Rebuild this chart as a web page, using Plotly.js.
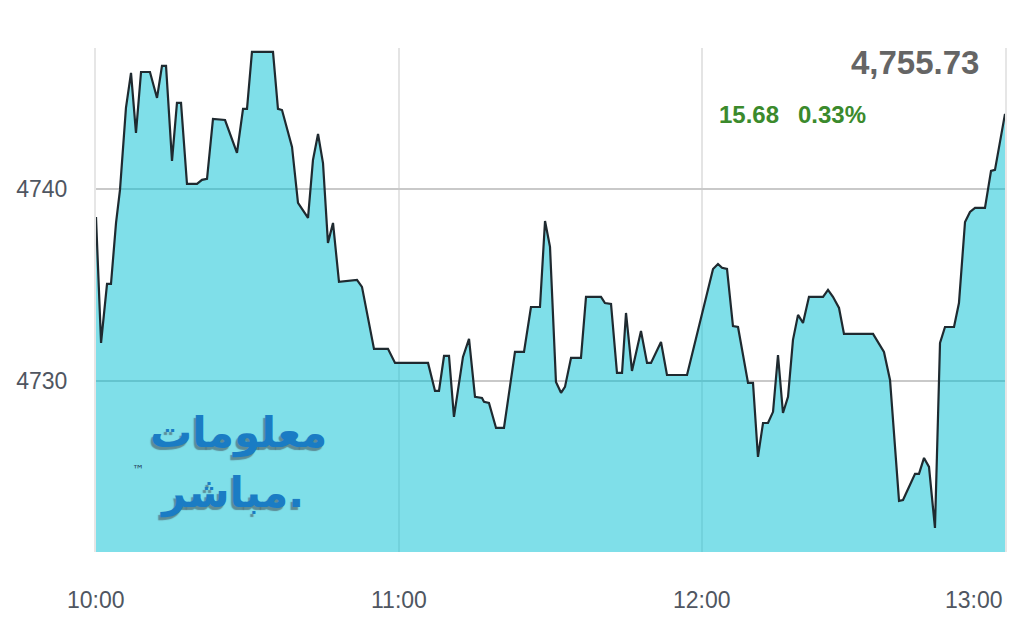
<!DOCTYPE html>
<html>
<head>
<meta charset="utf-8">
<script src="https://cdn.plot.ly/plotly-3.0.1.min.js"></script>
<style>
  html, body { margin: 0; padding: 0; background: #ffffff; }
  #chart { width: 1024px; height: 640px; }
</style>
</head>
<body>
<div id="chart"></div>
<script>
// ---- Data ----
const sessionDate = '2024-01-01';
const times = [
  '10:00:00','10:01:00','10:02:11','10:02:58','10:03:58','10:04:45','10:05:56','10:06:56','10:07:55','10:08:55',
  '10:10:41','10:12:05','10:13:04','10:13:52','10:15:03','10:16:02','10:16:50','10:18:01','10:20:00','10:20:59',
  '10:21:59','10:23:10','10:25:33','10:27:55','10:29:07','10:29:54','10:30:53','10:35:03','10:36:02','10:36:50',
  '10:38:49','10:40:00','10:41:59','10:42:58','10:43:58','10:44:57','10:45:56','10:46:56','10:48:07','10:51:41',
  '10:52:40','10:55:03','10:57:49','10:59:13','11:05:45','11:07:08','11:07:55','11:08:55','11:09:54','11:10:53',
  '11:12:40','11:13:52','11:15:03','11:16:26','11:16:50','11:17:49','11:19:13','11:20:47','11:22:58','11:24:45',
  '11:26:08','11:27:55','11:28:55','11:29:54','11:31:05','11:32:05','11:32:52','11:34:04','11:36:02','11:37:02',
  '11:40:00','11:40:47','11:41:59','11:43:10','11:44:10','11:44:57','11:46:08','11:47:55','11:49:07','11:49:54',
  '11:51:53','11:53:04','11:57:02','12:02:11','12:03:10','12:03:58','12:04:57','12:06:08','12:07:08','12:09:07',
  '12:10:06','12:11:05','12:12:05','12:13:04','12:14:04','12:15:03','12:16:02','12:17:02','12:18:01','12:19:01',
  '12:20:00','12:21:11','12:23:58','12:24:57','12:25:56','12:27:08','12:28:07','12:33:52','12:36:02','12:37:14',
  '12:39:01','12:39:48','12:42:11','12:42:58','12:43:58','12:44:57','12:46:08','12:47:08','12:48:07','12:49:54',
  '12:50:53','12:52:05','12:53:04','12:54:04','12:56:02','12:57:14','12:58:01','13:00:00'
];
const values = [
  4738.54,4731.98,4735.05,4735.05,4738.23,4739.95,4744.22,4746.04,4742.92,4746.09,
  4746.09,4744.74,4746.41,4746.41,4741.46,4744.48,4744.48,4740.26,4740.26,4740.47,
  4740.52,4743.65,4743.59,4741.88,4744.17,4744.17,4747.14,4747.14,4744.17,4744.11,
  4742.19,4739.27,4738.49,4741.51,4742.86,4741.35,4737.19,4738.23,4735.16,4735.26,
  4734.90,4731.67,4731.67,4730.94,4730.94,4729.48,4729.48,4731.30,4731.30,4728.13,
  4731.25,4732.19,4729.17,4729.11,4728.91,4728.85,4727.55,4727.55,4731.51,4731.51,
  4733.85,4733.85,4738.33,4736.98,4729.95,4729.38,4729.69,4731.20,4731.20,4734.38,
  4734.38,4734.06,4734.01,4730.42,4730.42,4733.54,4730.52,4732.60,4730.94,4730.94,
  4732.03,4730.31,4730.31,4735.83,4736.09,4735.89,4735.83,4732.86,4732.81,4729.90,
  4729.90,4726.04,4727.81,4727.81,4728.39,4731.35,4728.33,4729.17,4732.14,4733.44,
  4733.02,4734.38,4734.38,4734.74,4734.38,4733.80,4732.45,4732.45,4731.51,4730.05,
  4723.75,4723.80,4725.16,4725.16,4725.99,4725.52,4722.34,4731.98,4732.81,4732.81,
  4734.06,4738.28,4738.80,4739.01,4739.01,4740.94,4740.99,4743.91
];
const xTickTimes = ['10:00:00','11:00:00','12:00:00','13:00:00'];
const xTickLabels = ['10:00','11:00','12:00','13:00'];
const yTickVals = [4730, 4740];
const yTickLabels = ['4730', '4740'];
const yRange = [4721.09, 4747.34];
const lastPrice = '4,755.73';
const changeValue = '15.68';
const changePercent = '0.33%';
const logoLine1 = 'معلومات';
const logoLine2 = 'مباشر.';

// ---- Build ----
const xs = times.map(t => sessionDate + ' ' + t);
const xTicks = xTickTimes.map(t => sessionDate + ' ' + t);

const tickFont = { family: 'Liberation Sans, Arial, sans-serif', size: 23, color: '#4f5661' };

const trace = {
  x: xs, y: values,
  type: 'scatter', mode: 'lines',
  fill: 'tozeroy',
  fillcolor: 'rgba(0,191,211,0.5)',
  line: { color: '#1f2a30', width: 2.2, shape: 'linear' },
  hoverinfo: 'skip'
};

const annotations = [];
xTicks.forEach((t, i) => {
  annotations.push({
    x: t, xref: 'x', y: -0.095, yref: 'paper',
    text: xTickLabels[i], showarrow: false,
    xanchor: i === xTicks.length - 1 ? 'right' : 'center', yanchor: 'middle',
    font: tickFont
  });
});
annotations.push(
  { x: 0.974, xref: 'paper', y: 0.972, yref: 'paper', text: '<b>' + lastPrice + '</b>', showarrow: false,
    xanchor: 'right', yanchor: 'middle', font: { family: 'Liberation Sans, Arial, sans-serif', size: 33, color: '#656565' } },
  { x: 0.683, xref: 'paper', y: 0.869, yref: 'paper', text: '<b>' + changeValue + '</b>', showarrow: false,
    xanchor: 'left', yanchor: 'middle', font: { family: 'Liberation Sans, Arial, sans-serif', size: 24, color: '#3b8a2c' } },
  { x: 0.770, xref: 'paper', y: 0.869, yref: 'paper', text: '<b>' + changePercent + '</b>', showarrow: false,
    xanchor: 'left', yanchor: 'middle', font: { family: 'Liberation Sans, Arial, sans-serif', size: 24, color: '#3b8a2c' } }
);
// logo
const logoFont = { family: 'DejaVu Sans, Noto Sans, sans-serif', size: 42, color: '#1a7cc4',
  shadow: '-2px 3px 1px rgba(70,85,95,0.6)' };
annotations.push(
  { x: 0.157, xref: 'paper', y: 0.236, yref: 'paper', text: '<b>' + logoLine1 + '</b>', showarrow: false,
    xanchor: 'center', yanchor: 'middle', font: logoFont },
  { x: 0.150, xref: 'paper', y: 0.118, yref: 'paper', text: '<b>' + logoLine2 + '</b>', showarrow: false,
    xanchor: 'center', yanchor: 'middle', font: logoFont },
  { x: 0.046, xref: 'paper', y: 0.163, yref: 'paper', text: '™', showarrow: false,
    xanchor: 'center', yanchor: 'middle', font: { family: 'DejaVu Sans, sans-serif', size: 12, color: '#2a4a66' } }
);

const layout = {
  width: 1024, height: 640,
  margin: { l: 96, r: 19, t: 48, b: 88, pad: 0 },
  paper_bgcolor: '#ffffff', plot_bgcolor: '#ffffff',
  showlegend: false,
  xaxis: {
    type: 'date',
    range: [xTicks[0], xTicks[xTicks.length - 1]],
    tickvals: xTicks,
    showticklabels: false,
    showgrid: true, gridcolor: '#e4e4e4', gridwidth: 2,
    zeroline: false, showline: false, ticks: '',
    fixedrange: true
  },
  yaxis: {
    range: yRange,
    tickvals: yTickVals, ticktext: yTickLabels,
    tickfont: tickFont,
    ticks: 'outside', ticklen: 22, tickcolor: 'rgba(0,0,0,0)',
    showgrid: true, gridcolor: '#c9c9c9', gridwidth: 2,
    zeroline: false,
    showline: true, mirror: true, linecolor: '#e6e6e6', linewidth: 2,
    fixedrange: true
  },
  annotations: annotations
};

Plotly.newPlot('chart', [trace], layout, { displayModeBar: false, staticPlot: true });
</script>
</body>
</html>
